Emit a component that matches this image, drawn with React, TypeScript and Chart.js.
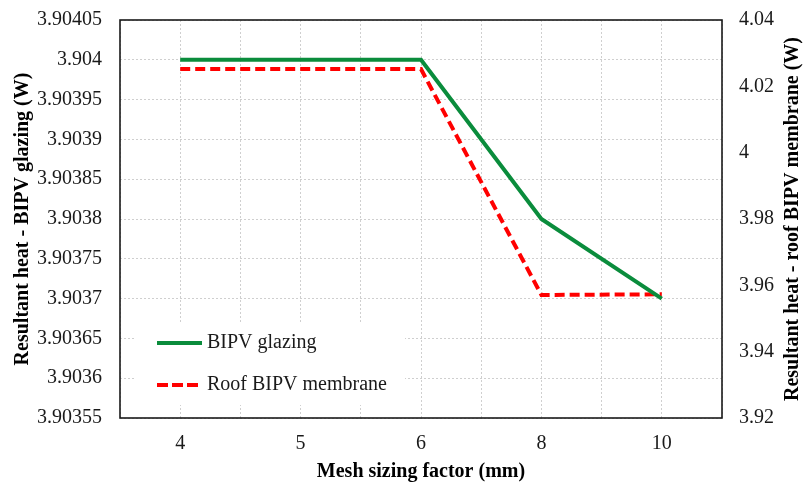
import { useEffect, useRef } from "react"
import { Chart, registerables } from "chart.js"

Chart.register(...registerables)

// mesh sizing factor (mm), shown as evenly spaced categories
const categories = ["4", "5", "6", "8", "10"]
const glazing = [3.904, 3.904, 3.904, 3.9038, 3.9037]
const membrane = [4.0252, 4.0252, 4.0252, 3.9571, 3.9573]

const leftTicks = [
    3.90355, 3.9036, 3.90365, 3.9037, 3.90375, 3.9038, 3.90385, 3.9039, 3.90395, 3.904, 3.90405,
]
const rightTicks = [3.92, 3.94, 3.96, 3.98, 4, 4.02, 4.04]

const leftTitle = "Resultant heat - BIPV glazing (W)"
const rightTitle = "Resultant heat - roof BIPV membrane (W)"
const xTitle = "Mesh sizing factor (mm)"
const seriesNames = ["BIPV glazing", "Roof BIPV membrane"]

const GREEN = "#0a8c3c"
const RED = "#ff0000"
const SERIF = "'Liberation Serif', 'Times New Roman', serif"

export default function App() {
    const chartRef = useRef<HTMLCanvasElement>(null)
    const chartInstance = useRef<Chart | null>(null)

    useEffect(() => {
        document.body.style.margin = "0"
        if (!chartRef.current) return
        const ctx = chartRef.current.getContext("2d")
        if (!ctx) return

        if (chartInstance.current) chartInstance.current.destroy()

        const grid = { color: "#cfcfcf", lineWidth: 1 }
        const dotted = { display: false, dash: [2, 2] }

        // frame, legend box and the right-hand title
        const extras = {
            id: "extras",
            afterDraw(chart: any) {
                const c = chart.ctx
                const a = chart.chartArea
                c.save()

                // legend
                c.fillStyle = "#ffffff"
                c.fillRect(a.left + 15, a.top + 303, 270, 82)
                const items = [
                    { color: GREEN, dash: [] as number[], y: a.top + 323 },
                    { color: RED, dash: [11, 4], y: a.top + 365 },
                ]
                items.forEach((it, i) => {
                    c.beginPath()
                    c.strokeStyle = it.color
                    c.lineWidth = 4
                    c.setLineDash(it.dash)
                    c.moveTo(a.left + 37, it.y)
                    c.lineTo(a.left + 82, it.y)
                    c.stroke()
                    c.setLineDash([])
                    c.fillStyle = "#1a1a1a"
                    c.font = `20px ${SERIF}`
                    c.textAlign = "left"
                    c.textBaseline = "middle"
                    c.fillText(seriesNames[i], a.left + 87, it.y)
                })

                // plot frame
                c.strokeStyle = "#1a1a1a"
                c.lineWidth = 1.6
                c.strokeRect(a.left, a.top, a.right - a.left, a.bottom - a.top)

                // right axis title reads bottom to top
                c.translate(chart.width - 10, (a.top + a.bottom) / 2)
                c.rotate(-Math.PI / 2)
                c.fillStyle = "#000000"
                c.font = `bold 20px ${SERIF}`
                c.textAlign = "center"
                c.textBaseline = "middle"
                c.fillText(rightTitle, 0, 0)
                c.restore()
            },
        }

        const noPadY = (w: number) => (scale: any) => {
            scale.width = w
            scale.paddingTop = 0
            scale.paddingBottom = 0
        }

        chartInstance.current = new Chart(ctx, {
            type: "line",
            data: {
                datasets: [
                    {
                        label: seriesNames[0],
                        data: glazing.map((v, i) => ({ x: i, y: v })),
                        borderColor: GREEN,
                        borderWidth: 4,
                        pointRadius: 0,
                        yAxisID: "y",
                    },
                    {
                        label: seriesNames[1],
                        data: membrane.map((v, i) => ({ x: i, y: v })),
                        borderColor: RED,
                        borderWidth: 4,
                        borderDash: [10, 5],
                        pointRadius: 0,
                        yAxisID: "y1",
                    },
                ],
            },
            options: {
                animation: false,
                responsive: true,
                maintainAspectRatio: false,
                layout: { padding: { top: 20, left: 0, right: 0, bottom: 0 } },
                plugins: {
                    legend: { display: false },
                    tooltip: { enabled: false },
                },
                scales: {
                    x: {
                        type: "linear",
                        min: -0.5,
                        max: categories.length - 0.5,
                        afterBuildTicks: (scale: any) => {
                            const t = []
                            for (let k = 0; k <= categories.length * 2; k++) t.push({ value: k / 2 - 0.5 })
                            scale.ticks = t
                        },
                        afterFit: (scale: any) => {
                            scale.height = 66
                            scale.paddingLeft = 0
                            scale.paddingRight = 0
                        },
                        grid: { ...grid, drawTicks: false },
                        border: dotted,
                        ticks: {
                            padding: 14,
                            color: "#1a1a1a",
                            font: { family: SERIF, size: 20 },
                            maxRotation: 0,
                            autoSkip: false,
                            callback: (v: any) => (Number.isInteger(v) ? categories[v] : ""),
                        },
                        title: {
                            display: true,
                            text: xTitle,
                            color: "#000000",
                            font: { family: SERIF, size: 20, weight: "bold" },
                            padding: { top: 0, bottom: 0 },
                        },
                    },
                    y: {
                        position: "left",
                        min: leftTicks[0],
                        max: leftTicks[leftTicks.length - 1],
                        afterBuildTicks: (scale: any) => {
                            scale.ticks = leftTicks.map((v) => ({ value: v }))
                        },
                        afterFit: noPadY(120),
                        grid: { ...grid, drawTicks: false },
                        border: dotted,
                        ticks: {
                            padding: 18,
                            color: "#1a1a1a",
                            font: { family: SERIF, size: 20 },
                            callback: (v: any) => String(v),
                        },
                        title: {
                            display: true,
                            text: leftTitle,
                            color: "#000000",
                            font: { family: SERIF, size: 20, weight: "bold" },
                            padding: { top: 11, bottom: 0 },
                        },
                    },
                    y1: {
                        position: "right",
                        min: rightTicks[0],
                        max: rightTicks[rightTicks.length - 1],
                        afterBuildTicks: (scale: any) => {
                            scale.ticks = rightTicks.map((v) => ({ value: v }))
                        },
                        afterFit: noPadY(81),
                        grid: { display: false, drawTicks: false },
                        border: { display: false },
                        ticks: {
                            padding: 17,
                            color: "#1a1a1a",
                            font: { family: SERIF, size: 20 },
                            callback: (v: any) => String(v),
                        },
                    },
                },
            },
            plugins: [extras],
        })

        return () => {
            if (chartInstance.current) {
                chartInstance.current.destroy()
                chartInstance.current = null
            }
        }
    }, [])

    return (
        <div style={{ width: 803, height: 484, background: "#ffffff" }}>
            <canvas ref={chartRef}></canvas>
        </div>
    )
}
